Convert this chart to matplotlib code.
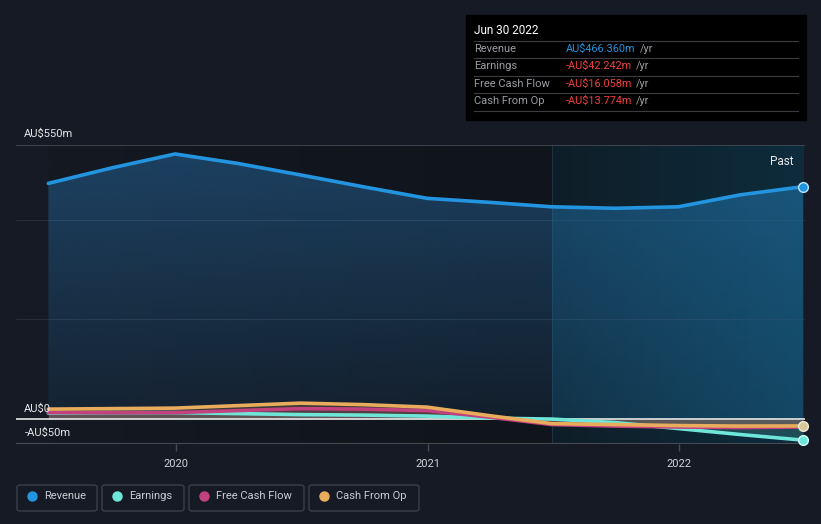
import matplotlib
matplotlib.use("Agg")
import matplotlib.pyplot as plt
import matplotlib.dates as mdates
from matplotlib.patches import FancyBboxPatch, Rectangle
from matplotlib.colors import to_rgb
from datetime import datetime
import numpy as np

plt.rcParams['font.family'] = ['Roboto', 'DejaVu Sans']

# ---- data (AU$ millions, trailing twelve months, quarterly) ----
dates = ["2019-06-30", "2019-09-30", "2019-12-31", "2020-03-31", "2020-06-30",
         "2020-09-30", "2020-12-31", "2021-03-31", "2021-06-30", "2021-09-30",
         "2021-12-31", "2022-03-31", "2022-06-30"]
revenue = [473, 504, 532, 513, 490, 466, 443, 435, 426, 423, 426, 450, 466.36]
earnings = [12, 13, 13, 11, 9, 8, 6, 2, 0, -7, -19, -31, -42.242]
free_cash_flow = [13, 13, 13, 17, 21, 20, 17, 4, -11, -14, -16, -17, -16.058]
cash_from_op = [20, 21, 22, 27, 32, 29, 24, 7, -9, -11, -13, -14, -13.774]

series_names = ["Revenue", "Earnings", "Free Cash Flow", "Cash From Op"]
series_colors = ["#2394df", "#6ee6d8", "#c2417f", "#e8ac5c"]

y_tick_values = [550, 0, -50]
y_tick_labels = ["AU$550m", "AU$0", "-AU$50m"]
x_tick_years = [2020, 2021, 2022]

tooltip_title = "Jun 30 2022"
tooltip_values = ["AU$466.360m", "-AU$42.242m", "-AU$16.058m", "-AU$13.774m"]
tooltip_colors = ["#2394df", "#f0413f", "#f0413f", "#f0413f"]
past_start = "2021-06-30"

# ---- figure ----
W, H = 821, 524
bg = "#151a24"
fig = plt.figure(figsize=(W / 100, H / 100), dpi=100, facecolor=bg)

def fx(px):
    return px / W

def fy(py):
    return 1 - py / H

ax = fig.add_axes([fx(16), fy(444), fx(805) - fx(16), fy(145) - fy(444)])
ax.set_facecolor(bg)

x = [datetime.strptime(d, "%Y-%m-%d") for d in dates]
xn = mdates.date2num(x)

x0lim = mdates.date2num(datetime(2019, 5, 14))
x1lim = mdates.date2num(datetime(2022, 7, 3))
ax.set_xlim(x0lim, x1lim)
ax.set_ylim(-50, 550)

ps = mdates.date2num(datetime.strptime(past_start, "%Y-%m-%d"))

def hgrad(c0, c1, n=64):
    a, b = np.array(to_rgb(c0)), np.array(to_rgb(c1))
    t = np.linspace(0, 1, n)[None, :, None]
    return a[None, None, :] * (1 - t) + b[None, None, :] * t

ax.imshow(hgrad("#141922", "#10141b"), extent=[xn[0], ps, -50, 550], aspect="auto",
          interpolation="bilinear", zorder=0)
ax.imshow(hgrad("#0f1e28", "#0d2c3c"), extent=[ps, xn[-1], -50, 550], aspect="auto",
          interpolation="bilinear", zorder=0)
ax.axvline(ps, color="#1b3343", lw=0.8, zorder=0.5)

# gridlines
for v in [200, 400]:
    ax.axhline(v, color="#2b3341", lw=0.6, zorder=0.6)
ax.axhline(550, color="#454b56", lw=1.2, zorder=0.6)
ax.axhline(-50, color="#454b56", lw=1.5, zorder=0.6)

all_series = [revenue, earnings, free_cash_flow, cash_from_op]

# revenue fill with vertical gradient
poly = ax.fill_between(xn, revenue, 0, facecolor="none", lw=0, zorder=1)
clip = poly.get_paths()[0]
n = 128
rgba = np.zeros((n, 1, 4))
rgba[..., :3] = to_rgb("#2b7dc0")
rgba[:, 0, 3] = np.linspace(0.42, 0.10, n)
im = ax.imshow(rgba, extent=[xn[0], xn[-1], 0, 550], aspect="auto", interpolation="bilinear", zorder=1)
im.set_clip_path(clip, transform=ax.transData)

# extra highlight of the fill in the past region
rgba2 = np.zeros((1, 64, 4))
rgba2[..., :3] = to_rgb("#1a6a95")
rgba2[0, :, 3] = np.linspace(0.18, 0.38, 64)
im2 = ax.imshow(rgba2, extent=[ps, xn[-1], 0, 550], aspect="auto", interpolation="bilinear", zorder=1.1)
im2.set_clip_path(clip, transform=ax.transData)

for vals, c in zip(all_series[1:], series_colors[1:]):
    ax.fill_between(xn, vals, 0, color=c, alpha=0.18, lw=0, zorder=1.5)

ax.axhline(0, color="#e8e8e8", lw=1.2, zorder=2)

# lines
for vals, c in zip(all_series, series_colors):
    ax.plot(xn, vals, color=c, lw=2.6, solid_capstyle="round", solid_joinstyle="round", zorder=3)

# end markers
ax.plot(xn[-1], revenue[-1], "o", ms=7, color=series_colors[0], mec="#bfe3ff", mew=1, zorder=4, clip_on=False)
ax.plot(xn[-1], earnings[-1], "o", ms=7, color=series_colors[1], mec="#d8fffb", mew=1, zorder=4, clip_on=False)
ax.plot(xn[-1], cash_from_op[-1], "o", ms=7, color="#d9c89a", mec="#f0ead8", mew=1, zorder=4, clip_on=False)

# axes styling
for s in ax.spines.values():
    s.set_visible(False)
ax.set_yticks([])
ax.set_xticks([mdates.date2num(datetime(yy, 1, 1)) for yy in x_tick_years])
ax.set_xticklabels([str(yy) for yy in x_tick_years], color="#d0d3d8", fontsize=8)
ax.tick_params(axis="x", length=5, color="#454b56", width=1, pad=6)

for v, lab in zip(y_tick_values, y_tick_labels):
    ax.annotate(lab, xy=(0, v), xycoords=("axes fraction", "data"),
                xytext=(6, 4), textcoords="offset points", ha="left", va="bottom",
                color="#e8e8ea", fontsize=8, annotation_clip=False, zorder=5)

ax.text(0.985, 0.965, "Past", transform=ax.transAxes, ha="right", va="top",
        color="#e8e8ea", fontsize=8.5, zorder=5)

# tooltip
tt = Rectangle((fx(466), fy(120)), fx(806) - fx(466), fy(15) - fy(120),
               transform=fig.transFigure, color="#000000", zorder=5)
fig.patches.append(tt)
fig.text(fx(474), fy(31), tooltip_title, color="#ffffff", fontsize=8.5, va="center", ha="left", zorder=6)
row_y = [49, 66, 84, 101]
sep_y = [41, 58, 76, 93, 111]
for sy in sep_y:
    fig.add_artist(plt.Line2D([fx(474), fx(798)], [fy(sy), fy(sy)], transform=fig.transFigure,
                              color="#3a3d42", lw=0.8, zorder=6))
fig.canvas.draw()
for ry, name, val, vc in zip(row_y, series_names, tooltip_values, tooltip_colors):
    fig.text(fx(474), fy(ry), name, color="#9a9da3", fontsize=8, va="center", ha="left", zorder=6)
    t = fig.text(fx(566), fy(ry), val, color=vc, fontsize=7.8, va="center", ha="left", zorder=6)
    bb = t.get_window_extent(renderer=fig.canvas.get_renderer())
    fig.text(bb.x1 / W + fx(4), fy(ry), "/yr", color="#9a9da3", fontsize=7.8, va="center", ha="left", zorder=6)

# legend
leg_boxes = [(17, 97), (102, 184), (189, 304), (309, 419)]
for (x0, x1), name, c in zip(leg_boxes, series_names, series_colors):
    box = FancyBboxPatch((fx(x0), fy(511)), fx(x1) - fx(x0), fy(485) - fy(511),
                         boxstyle="round,pad=0,rounding_size=0.004", transform=fig.transFigure,
                         facecolor="none", edgecolor="#3a404b", lw=1)
    fig.patches.append(box)
    fig.add_artist(plt.Line2D([fx(x0 + 15)], [fy(496)], marker="o", ms=6.5, color=c,
                              transform=fig.transFigure, lw=0))
    fig.text(fx(x0 + 27), fy(496), name, color="#c9ccd2", fontsize=8, va="center", ha="left")

fig.savefig("out.png", dpi=100, facecolor=bg)
